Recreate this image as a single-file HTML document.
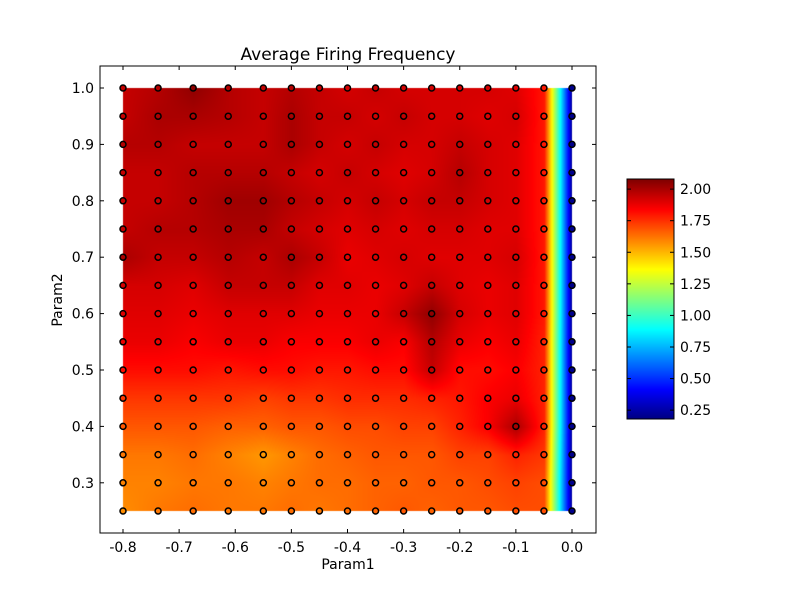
<!DOCTYPE html>
<html><head><meta charset="utf-8">
<style>
body{margin:0;background:#fff;width:800px;height:600px;overflow:hidden;position:relative;font-family:"DejaVu Sans","Liberation Sans",sans-serif}
canvas,svg{position:absolute;left:0;top:0}
</style></head>
<body>
<canvas id="hm" width="800" height="600"></canvas>
<svg id="sv" width="800" height="600"></svg>
<script>
const xVals=[-0.8,-0.7375,-0.675,-0.6125,-0.55,-0.5,-0.45,-0.4,-0.35,-0.3,-0.25,-0.2,-0.15,-0.1,-0.05,0];
const yVals=[1.0,0.95,0.9,0.85,0.8,0.75,0.7,0.65,0.6,0.55,0.5,0.45,0.4,0.35,0.3,0.25];
const zRows=[
[1.95,1.98,2.05,1.98,1.95,1.98,1.95,1.92,1.95,1.92,1.92,1.92,1.92,1.9,1.8,0.2],
[1.95,2.0,2.0,1.98,1.95,2.0,1.95,1.95,1.92,1.95,1.92,1.92,1.9,1.92,1.8,0.2],
[1.98,1.98,1.95,1.95,1.95,2.0,1.95,1.92,1.95,1.92,1.92,1.95,1.92,1.9,1.8,0.2],
[1.95,1.95,1.98,1.98,1.98,1.95,1.92,1.95,1.92,1.9,1.92,1.98,1.92,1.9,1.8,0.2],
[1.95,1.95,1.98,2.02,2.02,1.98,1.95,1.92,1.95,1.92,1.95,1.95,1.92,1.9,1.8,0.2],
[1.95,1.98,1.98,2.0,2.0,1.95,1.92,1.9,1.92,1.9,1.92,1.92,1.9,1.9,1.8,0.2],
[2.0,1.95,1.95,1.98,1.95,2.0,1.95,1.88,1.9,1.92,1.9,1.9,1.9,1.92,1.8,0.2],
[1.92,1.92,1.9,1.95,1.95,1.95,1.9,1.9,1.88,1.9,1.95,1.9,1.88,1.9,1.8,0.2],
[1.9,1.9,1.88,1.9,1.9,1.9,1.88,1.88,1.88,1.95,2.05,1.92,1.88,1.9,1.8,0.2],
[1.88,1.88,1.85,1.88,1.88,1.85,1.85,1.85,1.88,1.85,1.98,1.88,1.85,1.88,1.78,0.2],
[1.82,1.82,1.82,1.8,1.82,1.82,1.8,1.8,1.82,1.82,1.95,1.82,1.82,1.85,1.78,0.2],
[1.74,1.74,1.74,1.74,1.72,1.74,1.74,1.76,1.76,1.76,1.78,1.8,1.85,1.88,1.78,0.2],
[1.68,1.68,1.68,1.66,1.66,1.68,1.68,1.7,1.7,1.72,1.72,1.78,1.85,2.0,1.78,0.2],
[1.62,1.62,1.64,1.6,1.56,1.6,1.64,1.66,1.68,1.68,1.68,1.72,1.72,1.78,1.74,0.2],
[1.6,1.6,1.62,1.62,1.6,1.62,1.64,1.64,1.66,1.66,1.68,1.68,1.7,1.72,1.7,0.2],
[1.58,1.62,1.64,1.62,1.62,1.64,1.62,1.64,1.66,1.68,1.66,1.68,1.68,1.7,1.7,0.2]];
const xTicks=[-0.8,-0.7,-0.6,-0.5,-0.4,-0.3,-0.2,-0.1,0.0];
const yTicks=[0.3,0.4,0.5,0.6,0.7,0.8,0.9,1.0];
const cbTicks=[0.25,0.5,0.75,1.0,1.25,1.5,1.75,2.0];
const vmin=0.18,vmax=2.08;

const X0=100,X1=596,Y0=66,Y1=533;
const sx=v=>123+(v+0.8)*561.25;
const sy=v=>511-(v-0.25)*564;
const cbTop=179,cbBot=419,cbL=627,cbR=674;
const cby=v=>cbBot-(v-vmin)/(vmax-vmin)*(cbBot-cbTop);

function jet(t){t=Math.max(0,Math.min(1,t));
 const f=(a)=>Math.max(0,Math.min(1,a));
 const r=f(1.5-Math.abs(4*t-3)),g=f(1.5-Math.abs(4*t-2)),b=f(1.5-Math.abs(4*t-1));
 return [Math.round(r*255),Math.round(g*255),Math.round(b*255)];}
const col=v=>{const c=jet((v-vmin)/(vmax-vmin));return `rgb(${c[0]},${c[1]},${c[2]})`;};

const ctx=document.getElementById('hm').getContext('2d');
const px0=Math.round(sx(xVals[0])),px1=Math.round(sx(xVals[xVals.length-1]));
const py0=Math.round(sy(yVals[0])),py1=Math.round(sy(yVals[yVals.length-1]));
const img=ctx.createImageData(px1-px0,py1-py0);
for(let py=py0;py<py1;py++){
 const yv=1.0-(py-sy(1.0))/564;
 let j=0;while(j<yVals.length-2&&yVals[j+1]>yv)j++;
 const ty=Math.max(0,Math.min(1,(yVals[j]-yv)/(yVals[j]-yVals[j+1])));
 for(let px=px0;px<px1;px++){
  const xv=(px-123)/561.25-0.8;
  let i=0;while(i<xVals.length-2&&xVals[i+1]<xv)i++;
  const tx=Math.max(0,Math.min(1,(xv-xVals[i])/(xVals[i+1]-xVals[i])));
  const v=(zRows[j][i]*(1-tx)+zRows[j][i+1]*tx)*(1-ty)+(zRows[j+1][i]*(1-tx)+zRows[j+1][i+1]*tx)*ty;
  const c=jet((v-vmin)/(vmax-vmin));const k=((py-py0)*(px1-px0)+(px-px0))*4;
  img.data[k]=c[0];img.data[k+1]=c[1];img.data[k+2]=c[2];img.data[k+3]=255;}}
ctx.putImageData(img,px0,py0);
for(let y=cbTop;y<cbBot;y++){ctx.fillStyle=col(vmin+(cbBot-y)/(cbBot-cbTop)*(vmax-vmin));ctx.fillRect(cbL,y,cbR-cbL,1);}

const NS='http://www.w3.org/2000/svg',sv=document.getElementById('sv');
function mk(t,a,txt){const e=document.createElementNS(NS,t);for(const k in a)e.setAttribute(k,a[k]);if(txt!==undefined)e.textContent=txt;sv.appendChild(e);return e;}
let e;
for(let j=0;j<yVals.length;j++)for(let i=0;i<xVals.length;i++){
 e=mk('circle',{cx:sx(xVals[i]),cy:sy(yVals[j]),r:3,fill:col(zRows[j][i]),stroke:'#000','stroke-width':1.5});
 
 }
e=mk('rect',{x:X0,y:Y0,width:X1-X0,height:Y1-Y0,fill:'none',stroke:'#000','stroke-width':1});

xTicks.forEach(v=>{const x=sx(v);
 mk('line',{x1:x,x2:x,y1:Y1,y2:Y1-4,stroke:'#000'});mk('line',{x1:x,x2:x,y1:Y0,y2:Y0+4,stroke:'#000'});
 e=mk('text',{x:x,y:Y1+19,'font-size':14,'text-anchor':'middle'},v.toFixed(1));
 });
yTicks.forEach(v=>{const y=sy(v);
 mk('line',{x1:X0,x2:X0+4,y1:y,y2:y,stroke:'#000'});mk('line',{x1:X1,x2:X1-4,y1:y,y2:y,stroke:'#000'});
 e=mk('text',{x:X0-6,y:y+5,'font-size':14,'text-anchor':'end'},v.toFixed(1));
 });
e=mk('rect',{x:cbL,y:cbTop,width:cbR-cbL,height:cbBot-cbTop,fill:'none',stroke:'#000'});

cbTicks.forEach(v=>{const y=cby(v);
 mk('line',{x1:cbL,x2:cbL+4,y1:y,y2:y,stroke:'#000'});mk('line',{x1:cbR,x2:cbR-4,y1:y,y2:y,stroke:'#000'});
 e=mk('text',{x:cbR+6,y:y+5,'font-size':14},v.toFixed(2));
 });
e=mk('text',{x:348,y:60,'font-size':17,'text-anchor':'middle'},'Average Firing Frequency');

e=mk('text',{x:348,y:569,'font-size':14,'text-anchor':'middle'},'Param1');

e=mk('text',{x:62,y:300,'font-size':14,'text-anchor':'middle',transform:'rotate(-90 62 300)'},'Param2');

</script>
</body></html>
